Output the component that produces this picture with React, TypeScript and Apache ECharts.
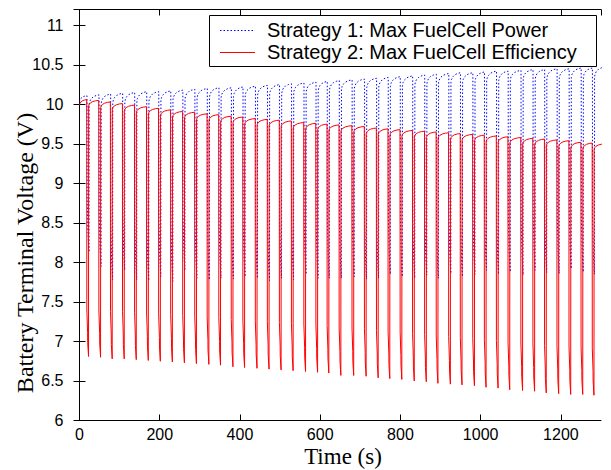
import React, { useEffect, useRef } from "react";
import * as echarts from "echarts";

// Times (s) at which each load pulse starts
const dropTimes = [
  18, 48, 77, 107, 137, 167, 197, 227, 257, 287, 318, 347, 378, 407, 438, 468, 498, 528, 559, 589,
  617, 647, 679, 710, 740, 769, 799, 830, 860, 889, 920, 949, 980, 1009, 1039, 1068, 1100, 1130,
  1159, 1190, 1220, 1250, 1278,
];
// Strategy 1 (blue, dotted): voltage just before each pulse, and pulse minimum
const bluePeaks = [
  10.11, 10.12, 10.13, 10.14, 10.15, 10.16, 10.16, 10.17, 10.18, 10.19, 10.2, 10.21, 10.21, 10.22,
  10.23, 10.24, 10.25, 10.26, 10.27, 10.28, 10.29, 10.3, 10.31, 10.32, 10.33, 10.34, 10.35, 10.36,
  10.37, 10.38, 10.39, 10.4, 10.4, 10.41, 10.42, 10.42, 10.43, 10.44, 10.44, 10.45, 10.45, 10.46,
  10.46,
];
const blueLows = [
  8.13, 7.95, 7.78, 7.9, 7.78, 7.77, 7.82, 7.76, 7.9, 7.8, 7.78, 7.8, 7.79, 7.82, 7.8, 7.77, 7.8,
  7.78, 7.85, 7.8, 7.8, 7.8, 7.82, 7.79, 7.8, 7.85, 7.82, 7.8, 7.84, 7.8, 7.86, 7.82, 7.85, 7.9,
  7.85, 7.88, 7.84, 7.9, 7.87, 7.86, 7.92, 7.88, 7.85,
];
// Strategy 2 (red, solid)
const redPeaks = [
  10.06, 10.05, 10.03, 10.01, 9.99, 9.97, 9.95, 9.93, 9.91, 9.9, 9.88, 9.87, 9.85, 9.84, 9.82, 9.81,
  9.8, 9.79, 9.77, 9.76, 9.75, 9.74, 9.73, 9.72, 9.7, 9.69, 9.68, 9.67, 9.66, 9.65, 9.64, 9.63, 9.62,
  9.61, 9.6, 9.59, 9.58, 9.57, 9.56, 9.55, 9.54, 9.52, 9.51,
];
const redLows = [
  6.81, 6.8, 6.78, 6.78, 6.77, 6.76, 6.75, 6.74, 6.73, 6.72, 6.71, 6.7, 6.68, 6.67, 6.66, 6.65, 6.64,
  6.63, 6.62, 6.61, 6.6, 6.57, 6.57, 6.56, 6.54, 6.53, 6.52, 6.5, 6.49, 6.47, 6.46, 6.45, 6.44, 6.42,
  6.41, 6.39, 6.38, 6.37, 6.35, 6.34, 6.33, 6.33, 6.32,
];
// start values at t = 0 and the level reached at the end of the trace
const blueStart = 10.03;
const redStart = 9.99;
const blueEndPeak = 10.47;
const redEndPeak = 9.5;
const nextDropAfterEnd = 1308;
// recovery step below the next peak
const blueRise = 0.12;
const redRise = 0.07;
// recovery curve: [fraction of time, fraction of rise]
const riseShape = [
  [0, 0],
  [0.06, 0.3],
  [0.18, 0.55],
  [0.4, 0.78],
  [0.7, 0.93],
  [1, 1],
];
// pulse profile: [seconds after drop, volts above pulse minimum]
const redPulse = [
  [0.3, 0.6],
  [2.2, 0.3],
  [2.4, 0.18],
  [4.5, 0],
];
const bluePulse = [
  [0.4, 0.7],
  [2.5, 0.25],
  [5.0, 0],
];
const bluePulseDelay = 0.6;
const redRecover = 4.8;
const blueRecover = 5.4;

const xTicks = { min: 0, max: 1300, interval: 200 };
const yTicks = { min: 6, max: 11.2, interval: 0.5 };

function buildTrace(
  start: number,
  peaks: number[],
  lows: number[],
  endPeak: number,
  rise: number,
  pulse: number[][],
  delay: number,
  recover: number
) {
  const pts: number[][] = [];
  const addRise = (t0: number, v0: number, t1: number, v1: number) => {
    for (const [f, g] of riseShape) pts.push([t0 + f * (t1 - t0), v0 + g * (v1 - v0)]);
  };
  addRise(0, start, dropTimes[0] + delay, peaks[0]);
  for (let k = 0; k < dropTimes.length; k++) {
    const t0 = dropTimes[k] + delay;
    for (const [dt, dv] of pulse) pts.push([t0 + dt, lows[k] + dv]);
    const nextPeak = k + 1 < peaks.length ? peaks[k + 1] : endPeak;
    const nextDrop = k + 1 < dropTimes.length ? dropTimes[k + 1] + delay : nextDropAfterEnd;
    addRise(t0 + recover, nextPeak - rise, nextDrop, nextPeak);
  }
  return pts;
}

const blueData = buildTrace(blueStart, bluePeaks, blueLows, blueEndPeak, blueRise, bluePulse, bluePulseDelay, blueRecover);
const redData = buildTrace(redStart, redPeaks, redLows, redEndPeak, redRise, redPulse, 0, redRecover);

const legendLabels = ["Strategy 1: Max FuelCell Power", "Strategy 2: Max FuelCell Efficiency"];

export default function App() {
  const ref = useRef<HTMLDivElement>(null);
  useEffect(() => {
    if (!ref.current) return;
    const chart = echarts.init(ref.current, undefined, { renderer: "svg" });
    const axisCommon = {
      type: "value" as const,
      axisLine: { show: true, lineStyle: { color: "#000", width: 1 } },
      axisTick: { show: true, inside: true, length: 6, lineStyle: { color: "#000" } },
      splitLine: { show: false },
    };
    const labelFont = { color: "#000", fontSize: 16, fontFamily: "Liberation Sans" };
    chart.setOption({
      animation: false,
      backgroundColor: "#fff",
      grid: { left: 79.5, right: 10, top: 9.5, bottom: 49.5, containLabel: false },
      xAxis: [
        {
          ...axisCommon,
          ...xTicks,
          position: "bottom",
          axisLabel: {
            ...labelFont,
            margin: 6,
            showMaxLabel: false,
            formatter: (v: number) => String(v),
          },
        },
        { ...axisCommon, ...xTicks, position: "top", axisLabel: { show: false } },
      ],
      yAxis: [
        {
          ...axisCommon,
          ...yTicks,
          position: "left",
          axisLabel: {
            ...labelFont,
            margin: 16,
            showMaxLabel: false,
            formatter: (v: number) => String(v),
          },
        },
        { ...axisCommon, ...yTicks, position: "right", axisLabel: { show: false } },
      ],
      series: [
        {
          type: "line",
          name: legendLabels[0],
          data: blueData,
          showSymbol: false,
          symbol: "none",
          lineStyle: { color: "#0000ff", width: 1, type: [1.5, 2] },
          clip: true,
        },
        {
          type: "line",
          name: legendLabels[1],
          data: redData,
          showSymbol: false,
          symbol: "none",
          lineStyle: { color: "#ff0000", width: 1 },
          clip: true,
        },
      ],
      graphic: [
        {
          type: "rect",
          shape: { x: 209.5, y: 15.5, width: 387, height: 51 },
          style: { fill: "#fff", stroke: "#000", lineWidth: 1 },
          z: 10,
        },
        {
          type: "line",
          shape: { x1: 220, y1: 30.5, x2: 255, y2: 30.5 },
          style: { stroke: "#0000ff", lineWidth: 1, lineDash: [1.5, 2] },
          z: 11,
        },
        {
          type: "line",
          shape: { x1: 220, y1: 52.5, x2: 255, y2: 52.5 },
          style: { stroke: "#ff0000", lineWidth: 1 },
          z: 11,
        },
        {
          type: "text",
          x: 267,
          y: 30,
          style: {
            text: legendLabels[0],
            font: '20px "Liberation Sans"',
            fill: "#000",
            textAlign: "left",
            textVerticalAlign: "middle",
          },
          z: 11,
        },
        {
          type: "text",
          x: 267,
          y: 52,
          style: {
            text: legendLabels[1],
            font: '20px "Liberation Sans"',
            fill: "#000",
            textAlign: "left",
            textVerticalAlign: "middle",
          },
          z: 11,
        },
        {
          type: "text",
          x: 343,
          y: 456,
          style: {
            text: "Time (s)",
            font: '23px "Liberation Serif"',
            fill: "#000",
            textAlign: "center",
            textVerticalAlign: "middle",
          },
        },
        {
          type: "text",
          x: 25,
          y: 253,
          rotation: Math.PI / 2,
          style: {
            text: "Battery Terminal Voltage (V)",
            font: '24px "Liberation Serif"',
            fill: "#000",
            textAlign: "center",
            textVerticalAlign: "middle",
          },
        },
      ],
    });
    return () => chart.dispose();
  }, []);
  return <div ref={ref} style={{ width: 611, height: 470, position: "absolute", left: 0, top: 0 }} />;
}
